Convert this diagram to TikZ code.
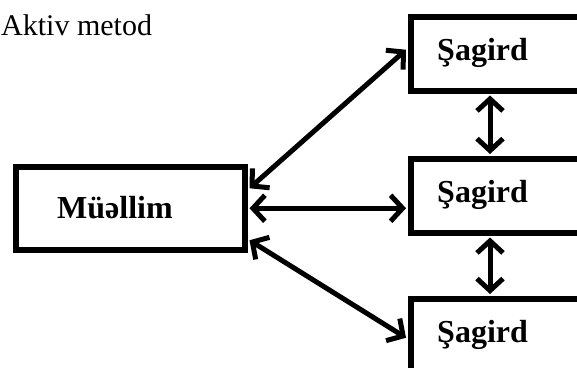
\documentclass[tikz,border=0pt]{standalone}
\usepackage{fontspec}
\setmainfont{Liberation Serif}
\usetikzlibrary{arrows.meta,calc}

\tikzset{
  box/.style={draw, line width=5.5pt, rectangle, inner sep=0pt, anchor=north west},
  lbl/.style={inner sep=0pt, anchor=base west, font=\fontsize{32}{36}\selectfont\bfseries},
  link/.style={line width=5pt, {Straight Barb[length=12pt,width=26pt]}-{Straight Barb[length=12pt,width=26pt]}}
}

\begin{document}
\begin{tikzpicture}[x=1pt,y=-1pt]
      \useasboundingbox (0,0) rectangle (577,367);
      \clip (0,0) rectangle (577,367);

      \node[inner sep=0pt, anchor=base west, font=\fontsize{30}{34}\selectfont] (title) at (1,35) {Aktiv metod};

      \node[box, minimum width=229, minimum height=83] (mue) at (13,164) {};
      \node[lbl] (muet) at (57,218) {Müəllim};

      \foreach \y[count=\i] in {14, 156, 296}
      {
        \node[box, minimum width=200, minimum height=74] (sag\i) at (408,\y) {};
        \node[lbl] (sagt\i) at (437,\y+46) {Şagird};
      }

      \draw[link] ($(mue.east)+(2,-20)$) -- ($(sag1.west)+(-2,-4)$);
      \draw[link] ($(mue.east)+(2,0)$) -- ($(mue.east -| sag2.west)+(-2,0)$);
      \draw[link] ($(mue.east)+(2,32)$) -- ($(sag3.west)+(-2,2)$);

      %\draw (sag1.south) -- (sag2.north);
      \draw[link] ($(sag1.south west)+(82,2)$) -- ($(sag2.north west)+(82,-2)$);
      \draw[link] ($(sag2.south west)+(82,2)$) -- ($(sag3.north west)+(82,-2)$);

    \end{tikzpicture}
\end{document}
